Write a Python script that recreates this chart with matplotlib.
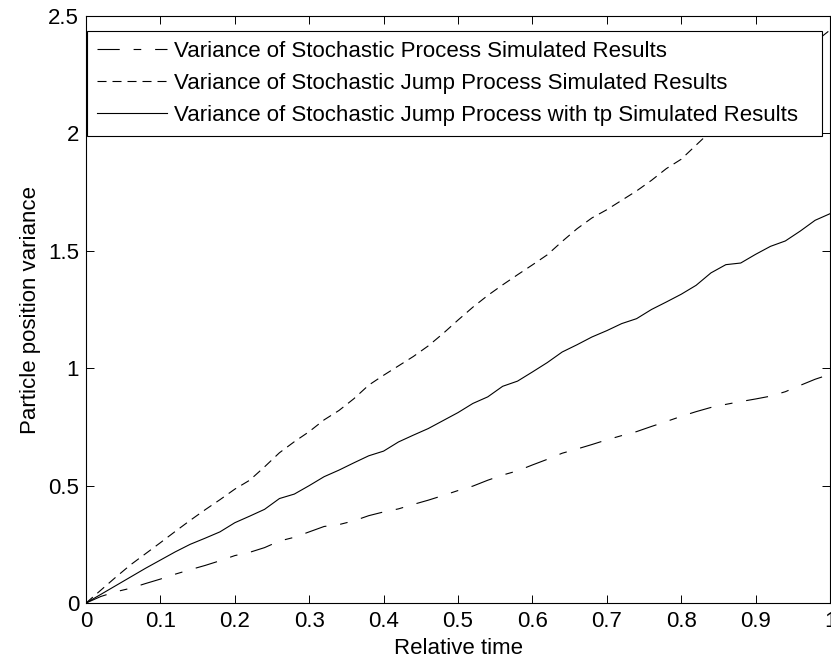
"""
粒子位置の分散プロット
"""

import numpy as np
import matplotlib

matplotlib.use("Agg")
import matplotlib.pyplot as plt

# フォント設定
plt.rcParams["font.family"] = ["Liberation Sans", "DejaVu Sans"]
plt.rcParams["font.size"] = 16
plt.rcParams["lines.scale_dashes"] = False

# データ
relative_time = np.round(np.arange(0, 1.0001, 0.02), 2)

var_stochastic = [
    0.0, 0.028, 0.048, 0.063, 0.083, 0.102, 0.123, 0.142, 0.160, 0.180,
    0.202, 0.216, 0.236, 0.264, 0.280, 0.303, 0.326, 0.334, 0.350, 0.372,
    0.388, 0.401, 0.420, 0.438, 0.458, 0.479, 0.498, 0.523, 0.545, 0.563,
    0.588, 0.612, 0.638, 0.656, 0.675, 0.695, 0.713, 0.730, 0.752, 0.773,
    0.795, 0.815, 0.833, 0.846, 0.858, 0.869, 0.881, 0.900, 0.927, 0.953,
    0.974,
]

var_jump = [
    0.0, 0.055, 0.110, 0.163, 0.210, 0.257, 0.305, 0.352, 0.397, 0.440,
    0.485, 0.523, 0.580, 0.640, 0.687, 0.730, 0.780, 0.820, 0.870, 0.928,
    0.970, 1.010, 1.050, 1.095, 1.148, 1.205, 1.260, 1.310, 1.355, 1.398,
    1.440, 1.483, 1.540, 1.594, 1.640, 1.675, 1.715, 1.755, 1.800, 1.850,
    1.890, 1.950, 2.010, 2.070, 2.130, 2.180, 2.230, 2.290, 2.340, 2.390,
    2.440,
]

var_jump_tp = [
    0.0, 0.037, 0.074, 0.111, 0.148, 0.183, 0.218, 0.250, 0.276, 0.303,
    0.342, 0.370, 0.399, 0.445, 0.464, 0.500, 0.538, 0.566, 0.597, 0.627,
    0.647, 0.686, 0.715, 0.743, 0.777, 0.811, 0.850, 0.878, 0.923, 0.945,
    0.984, 1.024, 1.069, 1.100, 1.133, 1.160, 1.190, 1.211, 1.250, 1.282,
    1.315, 1.353, 1.406, 1.441, 1.448, 1.485, 1.519, 1.542, 1.584, 1.630,
    1.658,
]

labels = [
    "Variance of Stochastic Process Simulated Results",
    "Variance of Stochastic Jump Process Simulated Results",
    "Variance of Stochastic Jump Process with tp Simulated Results",
]

fig = plt.figure(figsize=(8.31, 6.61), dpi=100)
ax = fig.add_axes([0.1035, 0.0877, 0.8953, 0.8881])

lw = 0.8
ax.plot(relative_time, var_stochastic, color="black", lw=lw,
        linestyle=(0, (16, 10, 5.5, 10)), label=labels[0])
ax.plot(relative_time, var_jump, color="black", lw=lw,
        linestyle=(0, (6.5, 4.3)), label=labels[1])
ax.plot(relative_time, var_jump_tp, color="black", lw=lw,
        linestyle="-", label=labels[2])

ax.set_xlim(0, 1)
ax.set_ylim(0, 2.5)
ax.set_xticks(np.arange(0, 1.01, 0.1))
ax.set_xticklabels(["0", "0.1", "0.2", "0.3", "0.4", "0.5",
                    "0.6", "0.7", "0.8", "0.9", "1"])
ax.set_yticks([0, 0.5, 1, 1.5, 2, 2.5])
ax.set_yticklabels(["0", "0.5", "1", "1.5", "2", "2.5"])

# MATLAB風の目盛り
ax.tick_params(direction="in", length=5.5, width=0.7, top=True, right=True,
               labelsize=16)
ax.tick_params(axis="x", pad=6)
ax.tick_params(axis="y", pad=5)
for spine in ax.spines.values():
    spine.set_linewidth(0.8)
    spine.set_color("black")

ax.set_xlabel("Relative time", fontsize=16, labelpad=4)
ax.set_ylabel("Particle position variance", fontsize=16, labelpad=5)

# 凡例（左上、枠付き）
leg = ax.legend(loc="upper left", bbox_to_anchor=(0.0013, 0.5, 0.988, 0.4745),
                mode="expand", borderaxespad=0, fancybox=False, framealpha=1,
                edgecolor="black", handlelength=3.15, handletextpad=0.32,
                borderpad=0.45, labelspacing=0.5, fontsize=16)
leg.get_frame().set_linewidth(0.8)

plt.savefig("out.png", dpi=100)
plt.close()
